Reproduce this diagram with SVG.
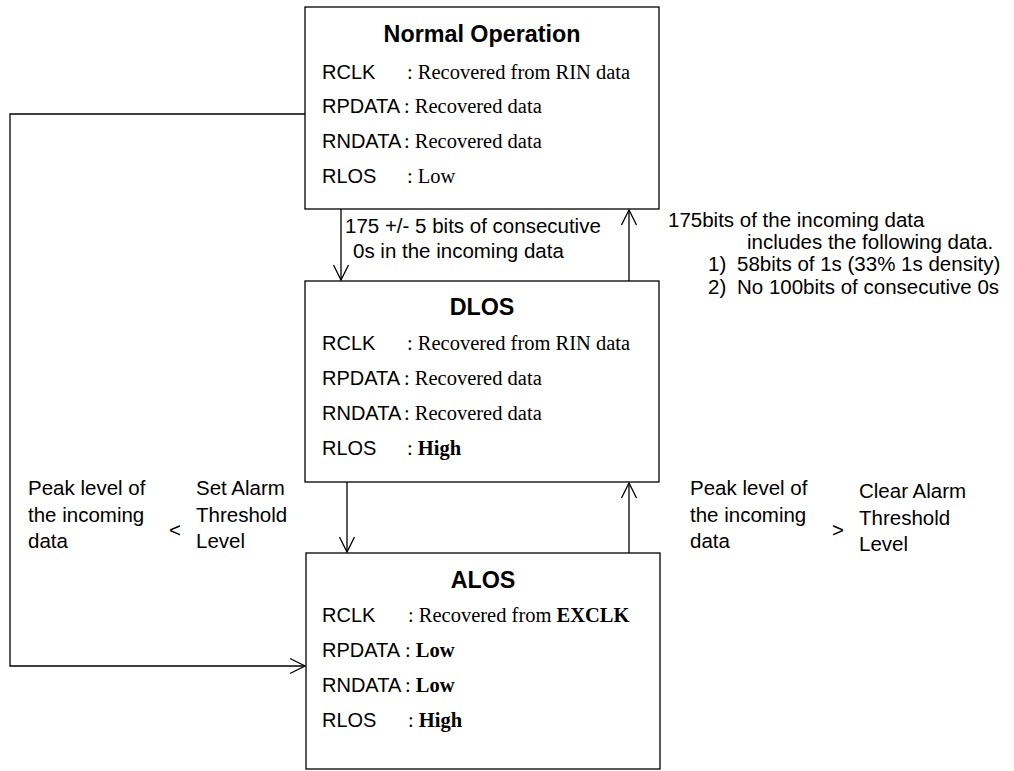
<svg xmlns="http://www.w3.org/2000/svg" width="1014" height="771" viewBox="0 0 1014 771">
<defs>
<style>
.box{fill:#fff;stroke:#000;stroke-width:1.3}
.ln{fill:none;stroke:#000;stroke-width:1.3}
.t{font-family:"Liberation Sans",Arial,sans-serif;font-size:20px;fill:#000}
.l{font-family:"Liberation Sans",Arial,sans-serif;font-size:20.5px;fill:#000}
.ti{font-family:"Liberation Sans",Arial,sans-serif;font-size:23.3px;font-weight:bold;fill:#000;text-anchor:middle}
.s{font-family:"Liberation Serif","Times New Roman",serif;font-size:20.5px;fill:#000}
.b{font-weight:bold}
</style>
<marker id="ah" markerUnits="userSpaceOnUse" markerWidth="20" markerHeight="20" viewBox="-16 -10 18 20" refX="0" refY="0" orient="auto">
<path d="M-15,-7.5 L0,0 L-15,7.5" fill="none" stroke="#000" stroke-width="1.3"/>
</marker>
</defs>
<rect width="1014" height="771" fill="#fff"/>

<g id="normal">
<rect class="box" x="305" y="7" width="354" height="202"/>
<text class="ti" x="482" y="42">Normal Operation</text>
<text class="t" x="322" y="79">RCLK</text><text class="s" x="407" y="79">: Recovered from RIN data</text>
<text class="t" x="322" y="113">RPDATA</text><text class="s" x="404" y="113">: Recovered data</text>
<text class="t" x="322" y="148">RNDATA</text><text class="s" x="404" y="148">: Recovered data</text>
<text class="t" x="322" y="183">RLOS</text><text class="s" x="407" y="183">: Low</text>
</g>

<g id="dlos">
<rect class="box" x="305" y="281" width="354" height="201"/>
<text class="ti" x="482" y="315">DLOS</text>
<text class="t" x="322" y="350">RCLK</text><text class="s" x="407" y="350">: Recovered from RIN data</text>
<text class="t" x="322" y="385">RPDATA</text><text class="s" x="404" y="385">: Recovered data</text>
<text class="t" x="322" y="420">RNDATA</text><text class="s" x="404" y="420">: Recovered data</text>
<text class="t" x="322" y="455">RLOS</text><text class="s" x="407" y="455">: <tspan class="b">High</tspan></text>
</g>

<g id="alos">
<rect class="box" x="306" y="553" width="354" height="216"/>
<text class="ti" x="483" y="588">ALOS</text>
<text class="t" x="322" y="622">RCLK</text><text class="s" x="408" y="622">: Recovered from <tspan class="b">EXCLK</tspan></text>
<text class="t" x="322" y="657">RPDATA</text><text class="s" x="405" y="657">: <tspan class="b">Low</tspan></text>
<text class="t" x="322" y="692">RNDATA</text><text class="s" x="405" y="692">: <tspan class="b">Low</tspan></text>
<text class="t" x="322" y="727">RLOS</text><text class="s" x="408" y="727">: <tspan class="b">High</tspan></text>
</g>

<g id="connectors">
<line class="ln" x1="341" y1="209" x2="341" y2="280" marker-end="url(#ah)"/>
<line class="ln" x1="629" y1="281" x2="629" y2="210" marker-end="url(#ah)"/>
<line class="ln" x1="347" y1="482" x2="347" y2="552" marker-end="url(#ah)"/>
<line class="ln" x1="629" y1="553" x2="629" y2="483" marker-end="url(#ah)"/>
<polyline class="ln" points="305,114 10,114 10,666 305,666" marker-end="url(#ah)"/>
</g>

<g id="labels">
<text class="l" x="345" y="233">175 +/- 5 bits of consecutive</text>
<text class="l" x="353" y="258">0s in the incoming data</text>

<text class="l" x="668" y="227">175bits of the incoming data</text>
<text class="l" x="747" y="249">includes the following data.</text>
<text class="l" x="708" y="271">1)</text><text class="l" x="737" y="271">58bits of 1s (33% 1s density)</text>
<text class="l" x="708" y="294">2)</text><text class="l" x="737" y="294">No 100bits of consecutive 0s</text>

<text class="l" x="28" y="495">Peak level of</text>
<text class="l" x="28" y="522">the incoming</text>
<text class="l" x="28" y="548">data</text>
<text class="l" x="169" y="537">&lt;</text>
<text class="l" x="196" y="495">Set Alarm</text>
<text class="l" x="196" y="522">Threshold</text>
<text class="l" x="196" y="548">Level</text>

<text class="l" x="690" y="495">Peak level of</text>
<text class="l" x="690" y="522">the incoming</text>
<text class="l" x="690" y="548">data</text>
<text class="l" x="832" y="537">&gt;</text>
<text class="l" x="859" y="498">Clear Alarm</text>
<text class="l" x="859" y="525">Threshold</text>
<text class="l" x="859" y="551">Level</text>
</g>
</svg>
